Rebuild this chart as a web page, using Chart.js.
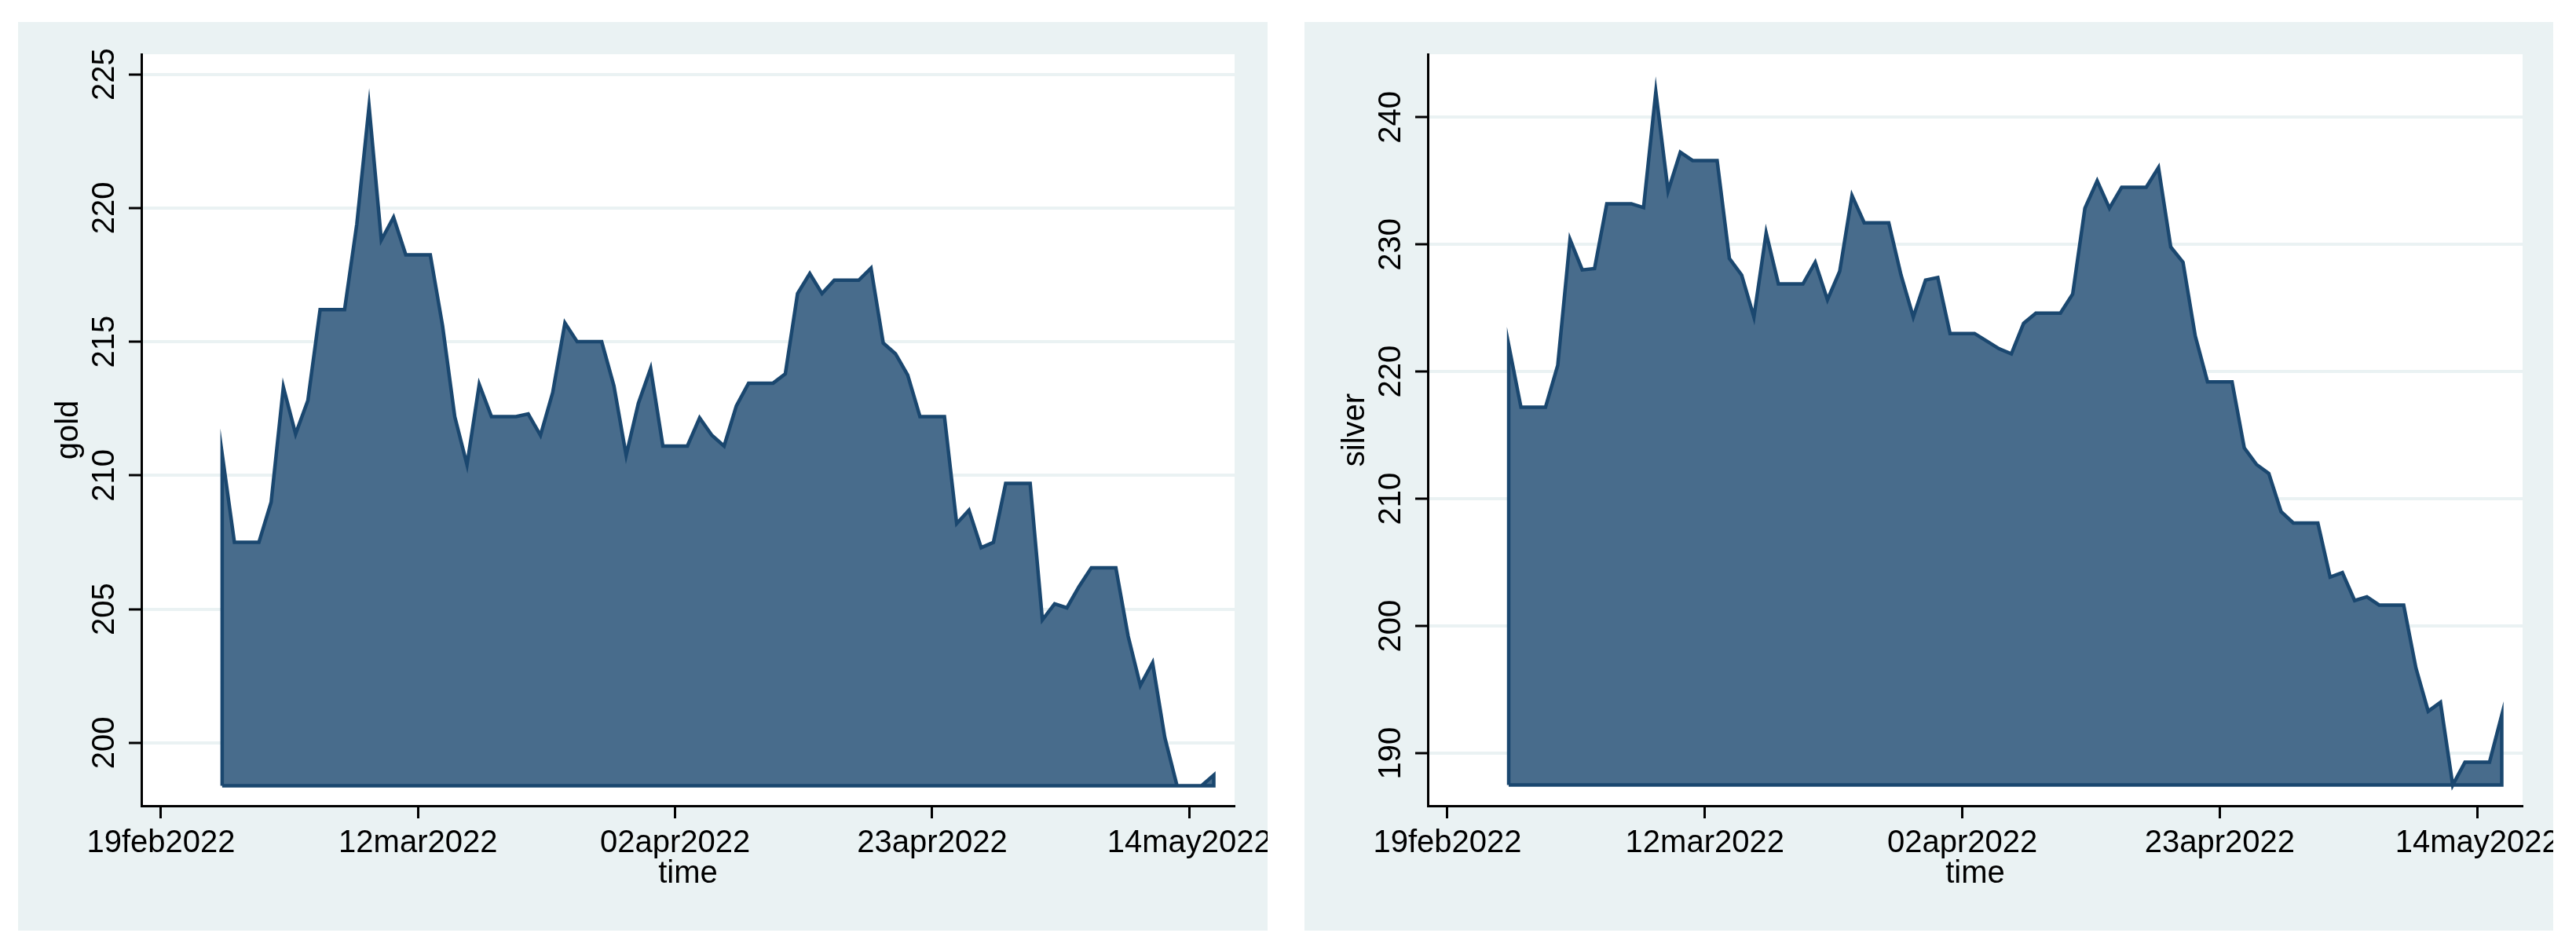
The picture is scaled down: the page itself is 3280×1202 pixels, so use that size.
<!DOCTYPE html>
<html>
<head>
<meta charset="utf-8">
<script src="https://cdn.jsdelivr.net/npm/chart.js@4.4.1/dist/chart.umd.min.js"></script>
<style>
    html, body { margin: 0; padding: 0; background: #fff; }
    body { width: 3280px; height: 1202px; position: relative; overflow: hidden; }
    .panel { position: absolute; top: 28px; height: 1157px; background: rgb(234, 242, 243); }
    #panelGold { left: 23px; width: 1591px; }
    #panelSilver { left: 1661px; width: 1590px; }
    canvas { display: block; }
</style>
</head>
<body>
<div class="panel" id="panelGold"><canvas id="goldChart" width="1591" height="1157"></canvas></div>
<div class="panel" id="panelSilver"><canvas id="silverChart" width="1590" height="1157"></canvas></div>
<script>
// Дни считаются от 19feb2022 (= 0); ряды идут ежедневно с 24feb2022 по 16may2022
const firstDay = 5;

const gold = [
    210.8, 207.5, 207.5, 207.5, 209.0, 213.3, 211.55, 212.8, 216.2, 216.2,
    216.2, 219.4, 223.8, 218.8, 219.65, 218.25, 218.25, 218.25, 215.6, 212.2,
    210.4, 213.4, 212.2, 212.2, 212.2, 212.3, 211.5, 213.1, 215.7, 215.0,
    215.0, 215.0, 213.35, 210.75, 212.7, 214.0, 211.1, 211.1, 211.1, 212.15,
    211.5, 211.1, 212.6, 213.45, 213.45, 213.45, 213.8, 216.8, 217.55, 216.8,
    217.3, 217.3, 217.3, 217.75, 214.95, 214.55, 213.75, 212.2, 212.2, 212.2,
    208.2, 208.7, 207.3, 207.5, 209.7, 209.7, 209.7, 204.6, 205.2, 205.05,
    205.85, 206.55, 206.55, 206.55, 204.0, 202.15, 203.0, 200.2, 198.4, 198.4,
    198.4, 198.8
];

const silver = [
    222.1, 217.2, 217.2, 217.2, 220.5, 230.4, 228.0, 228.1, 233.2, 233.2,
    233.2, 232.9, 242.0, 234.2, 237.25, 236.6, 236.6, 236.6, 228.9, 227.6,
    224.3, 230.9, 226.9, 226.9, 226.9, 228.6, 225.65, 227.9, 233.85, 231.7,
    231.7, 231.7, 227.6, 224.3, 227.2, 227.4, 223.0, 223.0, 223.0, 222.4,
    221.8, 221.4, 223.8, 224.6, 224.6, 224.6, 226.1, 232.85, 235.0, 232.85,
    234.5, 234.5, 234.5, 236.05, 229.8, 228.6, 222.8, 219.2, 219.2, 219.2,
    214.0, 212.7, 212.0, 209.0, 208.1, 208.1, 208.1, 203.85, 204.2, 202.0,
    202.3, 201.65, 201.65, 201.65, 196.7, 193.3, 194.0, 187.5, 189.3, 189.3,
    189.3, 193.0
];

const goldTicks = [200, 205, 210, 215, 220, 225];
const silverTicks = [190, 200, 210, 220, 230, 240];
const timeTicks = [0, 21, 42, 63, 84];
const timeLabels = ['19feb2022', '12mar2022', '02apr2022', '23apr2022', '14may2022'];

const navy = 'rgb(26, 71, 111)';
const areaColor = 'rgb(72, 108, 140)';
const gridColor = 'rgb(234, 242, 243)';
const fontFamily = '"Liberation Sans", Arial, sans-serif';

Chart.defaults.font.family = fontFamily;
Chart.defaults.color = '#000';

function toPoints(values) {
    return values.map((v, i) => ({ x: firstDay + i, y: v }));
}

// Контур области: вертикаль слева, линия ряда, вертикаль справа, основание
function outlinePoints(values, base) {
    const pts = toPoints(values);
    const first = pts[0].x;
    const last = pts[pts.length - 1].x;
    return [{ x: first, y: base }, ...pts, { x: last, y: base }, { x: first, y: base }];
}

// Белая область графика и острые стыки линий
const plotArea = {
    id: 'plotArea',
    beforeDraw(chart) {
        const { ctx, chartArea: a } = chart;
        ctx.save();
        ctx.fillStyle = '#fff';
        ctx.fillRect(a.left, a.top, a.right - a.left, a.bottom - a.top);
        ctx.restore();
    },
    beforeDatasetsDraw(chart) {
        chart.ctx.miterLimit = 60;
    }
};

function makeChart(canvasId, values, yTicks, yMin, yMax, yTitle, rightPad) {
    const base = Math.min(...values);
    return new Chart(document.getElementById(canvasId), {
        type: 'line',
        data: {
            datasets: [
                {
                    data: outlinePoints(values, base),
                    borderColor: navy,
                    borderWidth: 4.5,
                    borderJoinStyle: 'miter',
                    fill: false,
                    pointRadius: 0,
                    tension: 0,
                    order: 0
                },
                {
                    data: toPoints(values),
                    borderWidth: 0,
                    borderColor: 'rgba(0,0,0,0)',
                    backgroundColor: areaColor,
                    fill: { value: base },
                    pointRadius: 0,
                    tension: 0,
                    order: 1
                }
            ]
        },
        options: {
            responsive: false,
            animation: false,
            devicePixelRatio: 1,
            layout: { padding: { top: 41, right: rightPad, left: 0, bottom: 0 } },
            plugins: {
                legend: { display: false },
                tooltip: { enabled: false }
            },
            scales: {
                x: {
                    type: 'linear',
                    min: -1.6,
                    max: 87.7,
                    afterBuildTicks: s => { s.ticks = timeTicks.map(v => ({ value: v })); },
                    afterFit: s => { s.height = 159; s.paddingLeft = 0; s.paddingRight = 0; },
                    ticks: {
                        callback: (v, i) => timeLabels[i],
                        autoSkip: false,
                        minRotation: 0,
                        maxRotation: 0,
                        padding: 8,
                        font: { size: 40 }
                    },
                    grid: {
                        drawOnChartArea: false,
                        drawTicks: true,
                        tickLength: 16,
                        tickWidth: 3,
                        tickColor: '#000'
                    },
                    border: { display: true, color: '#000', width: 3 },
                    title: {
                        display: true,
                        text: 'time',
                        font: { size: 40, lineHeight: 1 },
                        padding: { top: 0, bottom: 52 }
                    }
                },
                y: {
                    min: yMin,
                    max: yMax,
                    afterBuildTicks: s => { s.ticks = yTicks.map(v => ({ value: v })); },
                    afterFit: s => { s.width = 157; s.paddingTop = 0; s.paddingBottom = 0; },
                    ticks: {
                        minRotation: 90,
                        maxRotation: 90,
                        crossAlign: 'center',
                        padding: -3,
                        font: { size: 40 }
                    },
                    grid: {
                        color: gridColor,
                        lineWidth: 4,
                        drawTicks: true,
                        tickLength: 16,
                        tickWidth: 3,
                        tickColor: '#000'
                    },
                    border: { display: true, color: '#000', width: 3 },
                    title: {
                        display: true,
                        text: yTitle,
                        font: { size: 40, lineHeight: 1 },
                        padding: { top: 45, bottom: 0 }
                    }
                }
            }
        },
        plugins: [plotArea]
    });
}

makeChart('goldChart', gold, goldTicks, 197.65, 225.75, 'gold', 42);
makeChart('silverChart', silver, silverTicks, 185.87, 244.96, 'silver', 39);
</script>
</body>
</html>
